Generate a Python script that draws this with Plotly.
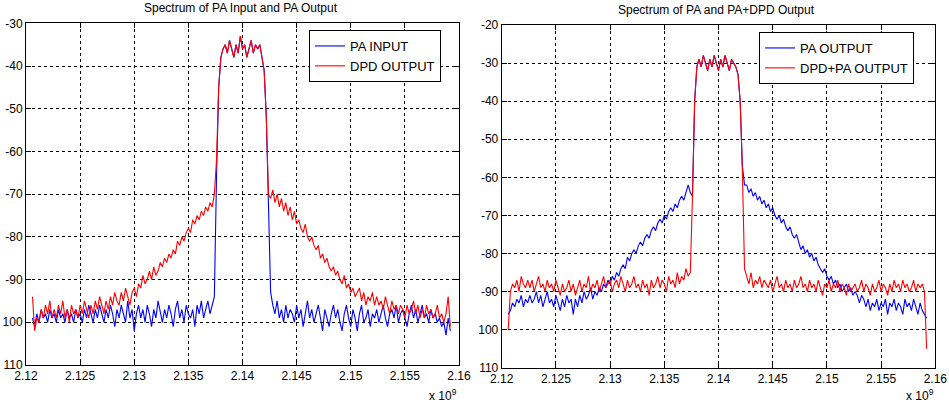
import plotly.graph_objects as go

# ---------------- data (dB values) ----------------
FREQ_START = 2.1206   # first frequency bin (x 1e9 Hz)
FREQ_STEP = 0.0002    # bin spacing (x 1e9 Hz)

X_TICKS = [2.12, 2.125, 2.13, 2.135, 2.14, 2.145, 2.15, 2.155, 2.16]
X_TICK_TEXT = ["2.12", "2.125", "2.13", "2.135", "2.14", "2.145", "2.15", "2.155", "2.16"]
Y1_TICKS = [-30, -40, -50, -60, -70, -80, -90, -100, -110]
Y1_TICK_TEXT = ["-30", "-40", "-50", "-60", "-70", "-80", "-90", "100", "110"]
Y2_TICKS = [-20, -30, -40, -50, -60, -70, -80, -90, -100, -110]
Y2_TICK_TEXT = ["-20", "-30", "-40", "-50", "-60", "-70", "-80", "-90", "100", "110"]

# left panel: PA INPUT (blue)
pa_input = [
    -99, -101, -98, -100, -97, -99, -98, -100, -97, -99,
    -98, -100, -97, -99, -98, -100, -97, -99, -98, -100,
    -97, -99, -98, -100, -97, -99, -96, -98, -100, -97,
    -99, -96, -98, -100, -97, -99, -96, -98, -101, -97,
    -99, -96, -98, -100, -95, -99, -97, -102, -98, -96,
    -99, -97, -100, -96, -98, -101, -97, -99, -95, -98,
    -100, -97, -99, -96, -98, -101, -97, -95, -99, -97,
    -100, -96, -98, -99, -97, -101, -96, -98, -95, -99,
    -97, -95, -98, -96, -94, -66, -45, -38, -36, -35,
    -37, -34, -36, -38, -35, -37, -33, -36, -35, -38,
    -36, -34, -37, -35, -36, -35, -38, -41, -52, -70,
    -93, -96, -98, -95, -99, -97, -100, -96, -99, -97,
    -98, -100, -96, -99, -97, -101, -98, -95, -99, -97,
    -100, -98, -96, -99, -102, -97, -99, -101, -98, -96,
    -99, -97, -100, -102, -98, -96, -99, -101, -97, -99,
    -102, -98, -96, -100, -99, -97, -101, -98, -99, -97,
    -100, -98, -96, -99, -101, -98, -97, -99, -96, -100,
    -98, -97, -99, -101, -98, -96, -99, -97, -100, -98,
    -96, -99, -98, -100, -97, -99, -98, -100, -99, -101,
    -100, -103, -99, -102,
]

# left panel: DPD OUTPUT (red)
dpd_output = [
    -94, -102, -99, -100, -97, -99, -96, -98, -95, -99,
    -97, -99, -96, -98, -95, -99, -97, -100, -96, -98,
    -97, -99, -96, -98, -95, -97, -99, -96, -98, -95,
    -97, -94, -96, -98, -95, -97, -94, -96, -93, -95,
    -96, -93, -95, -92, -94, -96, -93, -92, -94, -91,
    -92, -89, -91, -90, -88, -90, -87, -89, -88, -86,
    -87, -85, -86, -84, -85, -83, -84, -81, -82, -80,
    -81, -79, -78, -79, -76, -77, -75, -76, -74, -75,
    -73, -74, -72, -73, -70, -62, -45, -38, -36, -35,
    -37, -34, -36, -38, -35, -37, -33, -36, -35, -38,
    -36, -34, -37, -35, -36, -35, -38, -41, -52, -70,
    -71, -69, -72, -70, -73, -71, -74, -72, -75, -73,
    -76, -74, -77, -76, -78, -79, -77, -80, -81, -80,
    -82, -83, -82, -85, -84, -86, -85, -87, -88, -87,
    -89, -88, -90, -91, -89, -92, -91, -93, -92, -94,
    -93, -92, -95, -93, -96, -94, -95, -93, -96, -94,
    -96, -95, -97, -94, -96, -98, -95, -97, -96, -98,
    -96, -97, -99, -96, -98, -97, -95, -98, -96, -99,
    -97, -99, -96, -98, -97, -99, -98, -96, -99, -98,
    -100, -98, -94, -101,
]

# right panel: PA OUTPUT (blue)
pa_output = [
    -96, -95, -93, -94, -92, -93, -91, -94, -92, -93,
    -91, -93, -92, -90, -93, -91, -94, -92, -90, -93,
    -92, -94, -91, -93, -95, -92, -94, -91, -93, -92,
    -96, -92, -94, -91, -93, -90, -92, -91, -89, -92,
    -90, -91, -89, -90, -88, -89, -87, -88, -86, -87,
    -85, -86, -84, -83, -84, -81, -82, -80, -79, -80,
    -78, -77, -78, -76, -75, -76, -74, -73, -74, -72,
    -71, -72, -70, -71, -69, -68, -69, -67, -68, -66,
    -65, -66, -64, -62, -64, -65, -40, -31, -29, -31,
    -28, -30, -32, -29, -31, -28, -30, -32, -29, -31,
    -28, -30, -32, -29, -30, -31, -33, -40, -57, -62,
    -62, -64, -63, -65, -64, -66, -65, -67, -66, -68,
    -67, -69, -68, -70, -71, -70, -72, -71, -73, -74,
    -73, -75, -76, -75, -77, -79, -78, -80, -79, -81,
    -80, -82, -81, -83, -84, -85, -84, -86, -87, -86,
    -88, -87, -89, -88, -90, -89, -88, -90, -89, -91,
    -90, -91, -93, -91, -92, -94, -92, -95, -93, -94,
    -92, -95, -93, -94, -92, -96, -93, -94, -92, -95,
    -93, -94, -96, -92, -94, -93, -95, -92, -94, -96,
    -93, -95, -96, -97,
]

# right panel: DPD+PA OUTPUT (red)
dpd_pa_output = [
    -100, -90, -88, -89, -87, -90, -86, -88, -89, -87,
    -89, -87, -90, -88, -86, -89, -88, -90, -87, -89,
    -88, -90, -87, -89, -91, -88, -90, -89, -87, -90,
    -88, -91, -89, -87, -90, -88, -89, -86, -90, -88,
    -89, -87, -90, -88, -86, -89, -88, -87, -90, -88,
    -87, -89, -86, -88, -90, -87, -89, -88, -86, -89,
    -88, -90, -87, -89, -88, -91, -87, -89, -88, -86,
    -89, -87, -88, -90, -86, -88, -87, -89, -85, -88,
    -86, -87, -84, -86, -85, -65, -40, -31, -29, -31,
    -28, -30, -32, -29, -31, -28, -30, -32, -29, -31,
    -28, -30, -32, -29, -30, -31, -33, -40, -58, -84,
    -86, -88, -85, -89, -87, -88, -86, -89, -87, -88,
    -89, -87, -90, -88, -86, -89, -88, -90, -87, -89,
    -88, -90, -87, -89, -88, -86, -89, -88, -90, -87,
    -89, -88, -90, -87, -89, -91, -88, -89, -87, -90,
    -88, -89, -87, -90, -88, -89, -91, -88, -90, -89,
    -88, -90, -89, -87, -90, -88, -89, -91, -88, -90,
    -89, -87, -90, -88, -89, -91, -88, -90, -87, -89,
    -88, -90, -87, -89, -88, -90, -89, -87, -90, -88,
    -89, -88, -90, -105,
]


def freq_axis(values):
    return [round(FREQ_START + i * FREQ_STEP, 4) for i in range(len(values))]


FONT = "Liberation Sans, Arial, sans-serif"
BLUE = "#0000FF"
RED = "#FF0000"

fig = go.Figure()
fig.add_trace(go.Scatter(x=freq_axis(pa_input), y=pa_input, name="PA INPUT", mode="lines",
                         line=dict(color=BLUE, width=1.1), xaxis="x", yaxis="y", legend="legend"))
fig.add_trace(go.Scatter(x=freq_axis(dpd_output), y=dpd_output, name="DPD OUTPUT", mode="lines",
                         line=dict(color=RED, width=1.1), xaxis="x", yaxis="y", legend="legend"))
fig.add_trace(go.Scatter(x=freq_axis(pa_output), y=pa_output, name="PA OUTPUT", mode="lines",
                         line=dict(color=BLUE, width=1.1), xaxis="x2", yaxis="y2", legend="legend2"))
fig.add_trace(go.Scatter(x=freq_axis(dpd_pa_output), y=dpd_pa_output, name="DPD+PA OUTPUT", mode="lines",
                         line=dict(color=RED, width=1.1), xaxis="x2", yaxis="y2", legend="legend2"))

W, H = 949, 406


def px_x(p):
    return p / W


def px_y(p):
    return 1 - p / H


axis_common = dict(
    showgrid=True, gridcolor="black", griddash="dot", gridwidth=1,
    showline=True, linecolor="black", linewidth=1, mirror="ticks",
    ticks="inside", ticklen=5, tickcolor="black", zeroline=False,
    automargin=False, ticklabeloverflow="allow",
    tickfont=dict(family=FONT, size=12, color="black"),
)

fig.update_layout(
    template="none",
    width=W, height=H,
    margin=dict(l=0, r=0, t=0, b=0, pad=0),
    paper_bgcolor="white", plot_bgcolor="white",
    font=dict(family=FONT, size=12, color="black"),
    xaxis=dict(domain=[px_x(26), px_x(459)], range=[2.12, 2.16], anchor="y",
               tickvals=X_TICKS, ticktext=X_TICK_TEXT, **axis_common),
    yaxis=dict(domain=[px_y(365), px_y(23.3)], range=[-110, -30], anchor="x",
               tickvals=Y1_TICKS, ticktext=Y1_TICK_TEXT, **axis_common),
    xaxis2=dict(domain=[px_x(501.7), px_x(935.3)], range=[2.12, 2.16], anchor="y2",
                tickvals=X_TICKS, ticktext=X_TICK_TEXT, **axis_common),
    yaxis2=dict(domain=[px_y(367.7), px_y(25)], range=[-110, -20], anchor="x2",
                tickvals=Y2_TICKS, ticktext=Y2_TICK_TEXT, **axis_common),
    legend=dict(x=px_x(309), y=px_y(30), xanchor="left", yanchor="top",
                bgcolor="white", bordercolor="black", borderwidth=1,
                font=dict(family=FONT, size=13, color="black"), tracegroupgap=0),
    legend2=dict(x=px_x(759), y=px_y(32), xanchor="left", yanchor="top",
                 bgcolor="white", bordercolor="black", borderwidth=1,
                 font=dict(family=FONT, size=13, color="black"), tracegroupgap=0),
    showlegend=True,
    annotations=[
        dict(text="Spectrum of PA Input and PA Output", x=px_x(241), y=px_y(8),
             xref="paper", yref="paper", showarrow=False, xanchor="center", yanchor="middle",
             font=dict(family=FONT, size=12, color="black")),
        dict(text="Spectrum of PA and PA+DPD Output", x=px_x(716), y=px_y(10),
             xref="paper", yref="paper", showarrow=False, xanchor="center", yanchor="middle",
             font=dict(family=FONT, size=12, color="black")),
        dict(text="x 10<sup>9</sup>", x=px_x(459), y=px_y(405),
             xref="paper", yref="paper", showarrow=False, xanchor="right", yanchor="bottom",
             font=dict(family=FONT, size=12, color="black")),
        dict(text="x 10<sup>9</sup>", x=px_x(936), y=px_y(405),
             xref="paper", yref="paper", showarrow=False, xanchor="right", yanchor="bottom",
             font=dict(family=FONT, size=12, color="black")),
    ],
)

# remove the browser's default 8px body margin so the figure sits at the page origin
fig.write_html("out.html", config={"displayModeBar": False},
               post_script="document.body.style.margin='0';")
